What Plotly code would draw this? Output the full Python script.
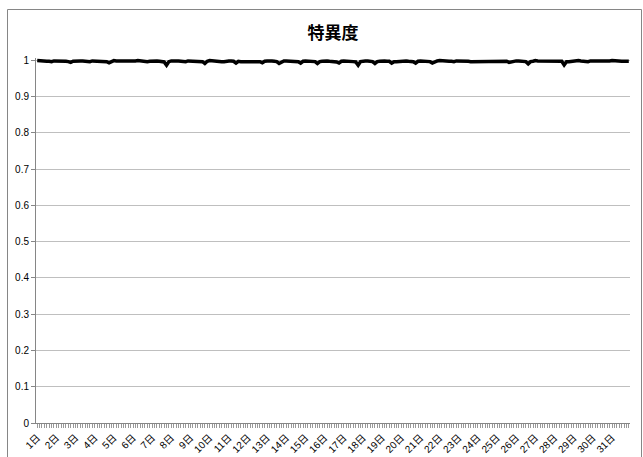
import plotly.graph_objects as go

# Specificity sampled every 3 hours (8 readings per day), grouped by week
week1 = [
    [0.999, 0.998, 0.998, 0.998, 0.997, 0.997, 0.996, 0.998],
    [0.998, 0.998, 0.999, 0.998, 0.997, 0.996, 0.994, 0.997],
    [0.998, 0.999, 0.998, 0.998, 0.997, 0.997, 0.996, 0.998],
    [0.998, 0.998, 0.998, 0.997, 0.997, 0.996, 0.993, 0.997],
    [0.999, 0.998, 0.998, 0.998, 0.997, 0.997, 0.996, 0.998],
    [0.998, 0.998, 0.999, 0.998, 0.997, 0.996, 0.996, 0.997],
    [0.998, 0.998, 0.998, 0.997, 0.996, 0.995, 0.986, 0.996],
]
week2 = [
    [0.998, 0.999, 0.998, 0.998, 0.997, 0.997, 0.996, 0.998],
    [0.998, 0.998, 0.998, 0.997, 0.997, 0.996, 0.991, 0.997],
    [0.999, 0.998, 0.998, 0.998, 0.997, 0.996, 0.996, 0.998],
    [0.998, 0.998, 0.997, 0.992, 0.997, 0.996, 0.996, 0.997],
    [0.998, 0.998, 0.998, 0.997, 0.997, 0.996, 0.993, 0.997],
    [0.998, 0.999, 0.998, 0.997, 0.996, 0.991, 0.996, 0.998],
    [0.998, 0.998, 0.998, 0.997, 0.997, 0.996, 0.992, 0.997],
]
week3 = [
    [0.998, 0.998, 0.998, 0.997, 0.996, 0.991, 0.996, 0.997],
    [0.998, 0.998, 0.997, 0.997, 0.996, 0.995, 0.992, 0.997],
    [0.998, 0.998, 0.998, 0.997, 0.996, 0.995, 0.986, 0.996],
    [0.998, 0.998, 0.998, 0.997, 0.996, 0.991, 0.996, 0.997],
    [0.998, 0.998, 0.997, 0.997, 0.992, 0.996, 0.996, 0.997],
    [0.998, 0.998, 0.998, 0.997, 0.997, 0.996, 0.992, 0.997],
    [0.998, 0.998, 0.998, 0.997, 0.996, 0.992, 0.996, 0.998],
]
week4 = [
    [0.999, 0.998, 0.998, 0.998, 0.997, 0.997, 0.996, 0.998],
    [0.998, 0.999, 0.998, 0.998, 0.997, 0.996, 0.996, 0.998],
    [0.998, 0.998, 0.998, 0.998, 0.997, 0.997, 0.996, 0.998],
    [0.998, 0.998, 0.998, 0.997, 0.997, 0.994, 0.996, 0.998],
    [0.998, 0.998, 0.998, 0.997, 0.996, 0.990, 0.996, 0.997],
    [0.999, 0.998, 0.998, 0.998, 0.997, 0.997, 0.996, 0.998],
    [0.998, 0.998, 0.998, 0.997, 0.987, 0.996, 0.996, 0.997],
]
week5 = [
    [0.998, 0.998, 0.999, 0.998, 0.997, 0.997, 0.996, 0.998],
    [0.998, 0.998, 0.998, 0.998, 0.997, 0.996, 0.996, 0.998],
    [0.999, 0.998, 0.998, 0.998, 0.997, 0.997, 0.996, 0.997],
]

hours = ["0時", "3時", "6時", "9時", "12時", "15時", "18時", "21時"]
y_ticks = [0, 0.1, 0.2, 0.3, 0.4, 0.5, 0.6, 0.7, 0.8, 0.9, 1]
y_tick_text = ["0", "0.1", "0.2", "0.3", "0.4", "0.5", "0.6", "0.7", "0.8", "0.9", "1"]

days = week1 + week2 + week3 + week4 + week5
x_cats, y_vals, tick_text = [], [], []
for d, readings in enumerate(days, start=1):
    for h, v in zip(hours, readings):
        x_cats.append(f"{d}日{h}")
        y_vals.append(v)
        tick_text.append(f"{d}日" if h == "0時" else "")

W, H = 643, 457
L, R, T, B = 36, 13, 58, 34
plot_w = W - L - R
plot_h = H - T - B

fig = go.Figure(
    go.Scatter(
        x=x_cats,
        y=y_vals,
        mode="lines",
        line=dict(color="#000000", width=3.5),
        showlegend=False,
    )
)

fig.update_layout(
    width=W,
    height=H,
    margin=dict(l=L, r=R, t=T, b=B, autoexpand=False),
    paper_bgcolor="white",
    plot_bgcolor="white",
    title=dict(
        text="<b>特異度</b>",
        x=333 / W,
        xanchor="center",
        y=1 - 33 / H,
        yanchor="middle",
        font=dict(family="Noto Sans CJK JP", size=17, color="#000000"),
    ),
    xaxis=dict(
        type="category",
        tickmode="array",
        tickvals=x_cats,
        ticktext=tick_text,
        tickangle=-45,
        ticks="outside",
        ticklen=4,
        tickwidth=1,
        tickcolor="#999999",
        showline=True,
        linecolor="#868686",
        showgrid=False,
        zeroline=False,
        range=[-0.5, len(x_cats) - 0.5],
        tickfont=dict(family="Liberation Sans, Noto Sans CJK JP", size=10, color="#000000"),
    ),
    yaxis=dict(
        range=[0, 1.006],
        tickmode="array",
        tickvals=y_ticks,
        ticktext=y_tick_text,
        ticks="outside",
        ticklen=4,
        tickcolor="#868686",
        showline=True,
        linecolor="#868686",
        showgrid=True,
        gridcolor="#bfbfbf",
        gridwidth=1,
        zeroline=False,
        tickfont=dict(family="Liberation Sans", size=10, color="#000000"),
    ),
    shapes=[
        dict(
            type="rect",
            xref="paper",
            yref="paper",
            x0=(7.5 - L) / plot_w,
            x1=(641.5 - L) / plot_w,
            y0=-0.3,
            y1=(H - B - 9.5) / plot_h,
            line=dict(color="#868686", width=1),
            fillcolor="rgba(0,0,0,0)",
            layer="above",
        )
    ],
)

fig.write_html("out.html")
